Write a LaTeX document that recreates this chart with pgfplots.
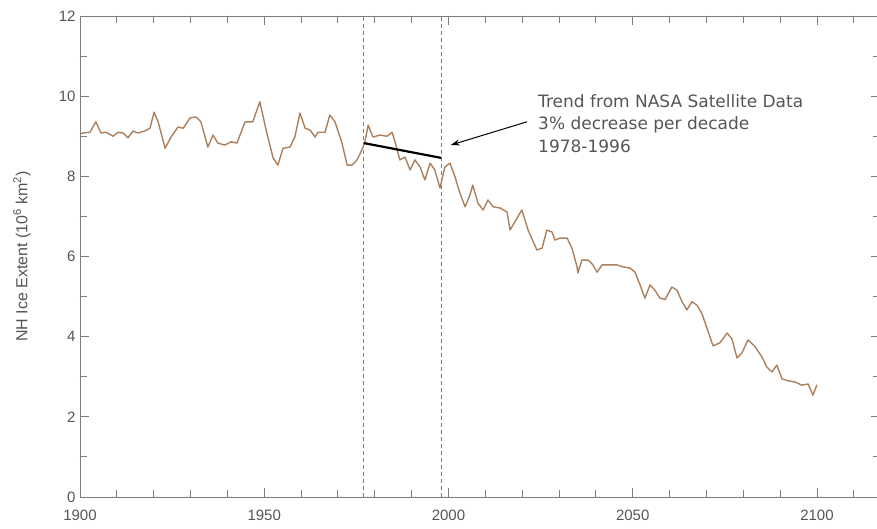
\documentclass[border=0pt]{standalone}
\usepackage{fontspec}
\setmainfont{Liberation Sans}
\newfontfamily\annfont{DejaVu Sans}
\usepackage{pgfplots}
\pgfplotsset{compat=1.18}
\usetikzlibrary{arrows.meta}
\definecolor{axgray}{RGB}{125,125,125}
\definecolor{txtgray}{RGB}{85,85,85}
\definecolor{icecol}{RGB}{172,128,92}
\begin{document}
\begin{tikzpicture}
\begin{axis}[
  at={(0pt,0pt)}, anchor=south west,
  scale only axis, width=799.6pt, height=481pt,
  xmin=1900, xmax=2117, ymin=0, ymax=12,
  xtick={1900,1950,2000,2050,2100},
  minor xtick={1910,1920,...,2110},
  ytick={0,2,...,12},
  minor ytick={1,3,...,11},
  tick align=inside,
  major tick length=9pt, minor tick length=7pt,
  axis line style={axgray, line width=0.9pt},
  tick style={axgray, line width=0.9pt},
  every tick/.style={axgray, line width=0.9pt},
  minor tick style={axgray, line width=0.9pt},
  ticklabel style={txtgray, font=\fontsize{15}{15}\selectfont},
  /pgf/number format/assume math mode=true,
  /pgf/number format/1000 sep={},
  xticklabel style={yshift=-9pt},
  yticklabel style={xshift=-1pt},
  ylabel={NH Ice Extent (10\textsuperscript{6} km\textsuperscript{2})},
  ylabel style={txtgray, font=\fontsize{16}{16}\selectfont, at={(axis description cs:-0.0725,0.5)}, anchor=center},
  clip=false,
]
\addplot[axgray, line width=0.9pt, dash pattern=on 4pt off 3pt] coordinates {(1977,0) (1977,12)};
\addplot[axgray, line width=0.9pt, dash pattern=on 4pt off 3pt] coordinates {(1998,0) (1998,12)};
\addplot[icecol, line width=1.4pt, line join=round] table {
x y
1900.0 9.05
1900.8 9.08
1902.7 9.10
1904.3 9.36
1905.7 9.08
1907.1 9.10
1909.0 9.00
1910.3 9.10
1911.7 9.08
1913.0 8.96
1914.4 9.13
1915.7 9.08
1917.6 9.13
1919.0 9.20
1920.1 9.60
1921.2 9.36
1923.1 8.70
1924.7 8.98
1926.6 9.23
1928.0 9.20
1929.9 9.46
1931.5 9.48
1932.8 9.36
1934.7 8.73
1936.1 9.03
1937.4 8.83
1939.3 8.78
1941.0 8.86
1942.6 8.83
1944.8 9.36
1946.9 9.36
1948.8 9.86
1950.7 9.08
1952.4 8.46
1953.7 8.28
1955.1 8.70
1957.0 8.73
1958.3 8.98
1959.7 9.58
1961.1 9.20
1962.4 9.16
1963.8 8.98
1964.6 9.10
1966.5 9.10
1967.8 9.53
1969.2 9.36
1971.1 8.83
1972.5 8.28
1973.8 8.28
1975.2 8.41
1976.5 8.66
1977.3 8.85
1978.2 9.28
1979.5 8.98
1981.4 9.03
1983.3 9.00
1984.7 9.10
1985.5 8.86
1986.8 8.41
1988.2 8.48
1989.6 8.16
1990.9 8.41
1992.3 8.23
1993.6 7.91
1995.0 8.33
1996.3 8.16
1997.7 7.71
1999.0 8.23
2000.4 8.33
2001.8 7.98
2003.1 7.58
2004.5 7.24
2005.8 7.53
2006.6 7.78
2008.0 7.33
2009.4 7.16
2010.7 7.41
2012.1 7.24
2014.0 7.21
2015.9 7.11
2016.7 6.66
2019.9 7.16
2021.6 6.66
2024.0 6.16
2025.4 6.21
2026.7 6.66
2028.1 6.61
2028.9 6.41
2030.3 6.46
2032.2 6.46
2033.5 6.21
2034.9 5.74
2035.1 5.59
2036.2 5.91
2037.9 5.91
2039.2 5.79
2040.3 5.61
2041.7 5.79
2043.8 5.79
2045.7 5.79
2047.4 5.74
2049.3 5.71
2050.6 5.61
2052.0 5.29
2053.3 4.96
2054.7 5.29
2056.0 5.16
2057.4 4.96
2058.8 4.93
2060.6 5.24
2062.0 5.16
2063.4 4.87
2064.7 4.67
2066.1 4.87
2067.4 4.79
2068.8 4.57
2070.2 4.20
2071.8 3.77
2073.7 3.85
2075.6 4.09
2076.9 3.95
2078.3 3.47
2079.6 3.59
2081.3 3.92
2083.2 3.75
2085.1 3.49
2086.4 3.24
2087.8 3.12
2089.1 3.29
2090.5 2.95
2092.1 2.90
2094.0 2.87
2095.9 2.79
2097.6 2.82
2098.9 2.54
2100.0 2.80
};
\addplot[black, line width=2.2pt] coordinates {(1977,8.83) (1998,8.46)};
\addplot[black, line width=1pt, -{Stealth[length=9pt,width=6pt]}] coordinates {(2021.3,9.36) (2000.6,8.78)};
\node[anchor=north west, align=left, inner sep=0pt, text=txtgray,
      font=\annfont\fontsize{17}{22.5}\selectfont]
  at (axis cs:2024.3,10.05)
  {Trend from NASA Satellite Data\\3\% decrease per decade\\1978-1996};
\end{axis}
\pgfresetboundingbox
\path[use as bounding box] (-80pt,-32pt) rectangle (797pt,497pt);
\end{tikzpicture}
\end{document}
